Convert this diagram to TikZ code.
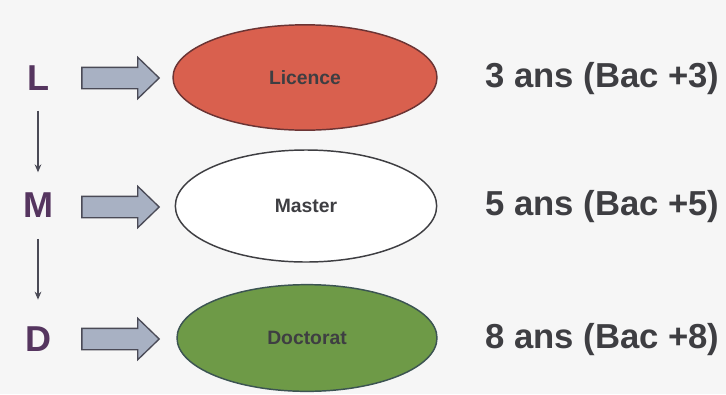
\documentclass[tikz,border=0pt]{standalone}
\usepackage{fontspec}
\setmainfont{Liberation Sans}
\usetikzlibrary{arrows.meta, positioning, shapes.geometric, shapes.arrows}
\definecolor{licred}{HTML}{D9604E}
\definecolor{licline}{HTML}{6B3434}
\definecolor{docgreen}{HTML}{6E9A47}
\definecolor{docline}{HTML}{3C5452}
\definecolor{arrowfill}{HTML}{A8B1C3}
\definecolor{arrowline}{HTML}{4A4A56}
\definecolor{lmdpurple}{HTML}{55355F}
\definecolor{textgray}{HTML}{3E3E42}
\definecolor{paper}{HTML}{F6F6F6}

\begin{document}
\begin{tikzpicture}[x=0.75pt, y=-0.75pt,
    level/.style={font=\fontsize{27}{30}\selectfont\bfseries, text=lmdpurple, inner sep=0pt},
    degree/.style={ellipse, draw, line width=1.1pt, inner sep=0pt, minimum width=197pt, minimum height=80pt,
                   font=\fontsize{14.5}{16}\selectfont\bfseries, text=textgray},
    blockarrow/.style={single arrow, draw=arrowline, fill=arrowfill, line width=1pt,
                   minimum height=58pt, inner xsep=0pt, inner ysep=7.5pt, single arrow head extend=7.5pt,
                   single arrow tip angle=88},
    years/.style={anchor=west, font=\fontsize{26}{30}\selectfont\bfseries, text=textgray, inner sep=0pt}]
    \fill[paper] (0,0) rectangle (726,394);
    \useasboundingbox (0,0) rectangle (726,394);
    % the three levels
    \node[level] (L) at (38,78) {L};
    \node[level] (M) at (38,205) {M};
    \node[level] (D) at (38,339) {D};
    \draw[-{Stealth[length=6pt, width=5pt]}, line width=1.1pt, arrowline, shorten <=15pt, shorten >=15pt] (L) -- (M);
    \draw[-{Stealth[length=6pt, width=5pt]}, line width=1.1pt, arrowline, shorten <=16pt, shorten >=20pt] (M) -- (D);
    % block arrows
    \node[blockarrow] (la) at (115,78) {};
    \node[blockarrow] (ma) at (115,207) {};
    \node[blockarrow] (da) at (115,339) {};
    % degrees
    \node[degree, fill=licred, draw=licline, minimum width=198pt, minimum height=79pt] (lic) at (305,77.5) {Licence};
    \node[degree, fill=white, draw=textgray, minimum width=196pt, minimum height=84pt] (mas) at (306,206) {Master};
    \node[degree, fill=docgreen, draw=docline, minimum width=195pt, minimum height=80pt] (doc) at (307,338) {Doctorat};
    % durations
    \node[years] (t3) at (485,79) {3 ans (Bac +3)};
    \node[years] (t5) at (485,207) {5 ans (Bac +5)};
    \node[years] (t8) at (485,340) {8 ans (Bac +8)};
\end{tikzpicture}
\end{document}
